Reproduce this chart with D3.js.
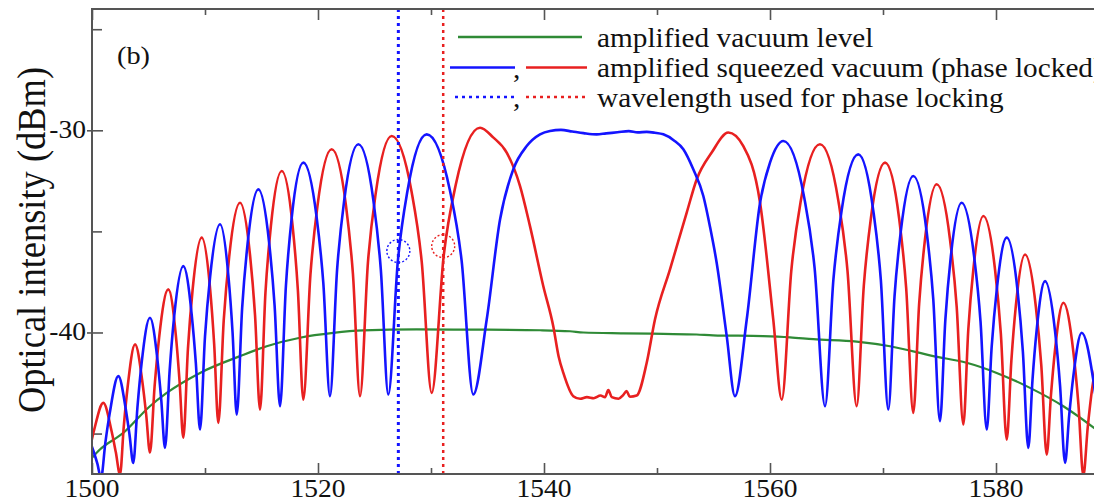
<!DOCTYPE html>
<html>
<head>
<meta charset="utf-8">
<script src="https://cdn.jsdelivr.net/npm/d3@7"></script>
<style>
  html, body { margin: 0; padding: 0; background: #fff; }
  svg { display: block; }
</style>
</head>
<body>
<svg id="chart" width="1094" height="500"></svg>
<script>
// Amplified squeezed vacuum spectra, [wavelength (nm), intensity (dBm)]
const bluePhaseLocked = [
  [1499.5, -44.9], [1500.15, -45.9], [1500.48, -46.5], [1500.8, -47.2],
  [1501.18, -45.46], [1501.57, -43.99], [1502.33, -42.16],
  [1502.99, -43.80], [1503.32, -45.06], [1503.65, -46.45],
  [1504.02, -43.71], [1504.39, -41.52], [1505.13, -39.27],
  [1505.80, -41.39], [1506.13, -43.34], [1506.46, -45.71],
  [1506.87, -41.90], [1507.27, -39.22], [1508.08, -36.72],
  [1508.82, -39.10], [1509.19, -41.52], [1509.56, -44.80],
  [1510.00, -40.20], [1510.45, -37.26], [1511.33, -34.65],
  [1512.07, -37.20], [1512.44, -40.00], [1512.81, -44.06],
  [1513.29, -38.77], [1513.77, -35.61], [1514.72, -32.92],
  [1515.68, -35.58], [1516.16, -38.67], [1516.64, -43.65],
  [1517.16, -37.70], [1517.67, -34.34], [1518.70, -31.60],
  [1519.88, -34.31], [1520.47, -37.55], [1521.06, -43.15],
  [1521.69, -36.89], [1522.32, -33.46], [1523.57, -30.69],
  [1524.90, -33.46], [1525.56, -36.89], [1526.22, -43.07],
  [1527.07, -36.45], [1527.92, -32.99], [1529.62, -30.20],
  [1531.68, -32.99], [1532.71, -36.45], [1533.74, -43.07],
  [1534.93, -39.36], [1536.11, -34.41], [1537.28, -31.93], [1538.47, -30.78], [1539.65, -30.20],
  [1540.53, -30.03], [1541.5, -29.98], [1542.5, -30.06], [1543.5, -30.14], [1544.66, -30.20],
  [1545.5, -30.15], [1546.5, -30.10], [1547.5, -30.04], [1548.3, -30.10], [1549.09, -30.08],
  [1549.8, -30.12], [1550.56, -30.20], [1551.5, -30.50], [1552.33, -30.94], [1553.21, -31.93],
  [1554.10, -33.25], [1554.70, -34.80], [1555.28, -36.55], [1556.17, -40.18], [1556.90, -43.15],
  [1557.94, -39.36], [1559.12, -33.58], [1560.00, -31.60], [1561.18, -30.53],
  [1563.03, -33.33], [1563.95, -36.83], [1564.87, -43.65],
  [1565.61, -37.39], [1566.34, -33.96], [1567.81, -31.19],
  [1569.14, -33.97], [1569.81, -37.41], [1570.47, -43.81],
  [1571.02, -38.21], [1571.58, -34.97], [1572.68, -32.26],
  [1573.86, -35.01], [1574.45, -38.36], [1575.04, -44.39],
  [1575.52, -39.35], [1576.00, -36.25], [1576.96, -33.58],
  [1578.07, -36.27], [1578.63, -39.45], [1579.18, -44.80],
  [1579.62, -40.69], [1580.07, -37.87], [1580.95, -35.31],
  [1581.91, -37.94], [1582.38, -40.96], [1582.86, -45.71],
  [1583.23, -42.34], [1583.60, -39.87], [1584.34, -37.46],
  [1585.23, -39.96], [1585.67, -42.64], [1586.11, -46.45],
  [1586.48, -44.08], [1586.85, -42.13], [1587.58, -40.01],
  [1588.59, -42.28], [1589.1, -44.51], [1589.6, -47.3]
];

const redPhaseLocked = [
  [1499.3, -46.8], [1499.79, -45.77], [1500.19, -44.82], [1501.00, -43.48],
  [1501.74, -44.90], [1502.11, -45.93], [1502.48, -47.03],
  [1502.81, -44.66], [1503.15, -42.71], [1503.81, -40.59],
  [1504.47, -42.49], [1504.80, -44.09], [1505.13, -45.94],
  [1505.54, -42.67], [1505.94, -40.25], [1506.75, -37.87],
  [1507.42, -40.14], [1507.75, -42.42], [1508.08, -45.21],
  [1508.49, -40.81], [1508.90, -37.91], [1509.71, -35.31],
  [1510.45, -37.83], [1510.81, -40.56], [1511.18, -44.47],
  [1511.66, -39.38], [1512.14, -36.25], [1513.10, -33.58],
  [1513.99, -36.20], [1514.43, -39.16], [1514.87, -43.81],
  [1515.35, -38.03], [1515.83, -34.74], [1516.79, -32.01],
  [1517.75, -34.71], [1518.22, -37.91], [1518.70, -43.32],
  [1519.33, -37.14], [1519.96, -33.71], [1521.21, -30.94],
  [1522.47, -33.70], [1523.09, -37.09], [1523.72, -43.15],
  [1524.42, -36.53], [1525.12, -33.07], [1526.52, -30.28],
  [1528.29, -33.06], [1529.18, -36.51], [1530.06, -42.99],
  [1531.13, -36.17], [1532.20, -32.67], [1534.34, -29.87],
  [1535.50, -30.35], [1536.70, -31.10], [1537.88, -32.76], [1538.76, -34.74], [1539.94, -37.71],
  [1540.82, -39.69], [1541.30, -41.20], [1541.71, -42.00], [1542.59, -43.15],
  [1543.2, -43.28], [1543.8, -43.20], [1544.4, -43.25], [1545.0, -43.12], [1545.4, -43.20],
  [1545.69, -42.85], [1546.0, -43.20], [1546.6, -43.28], [1547.0, -43.10], [1547.31, -42.90],
  [1547.6, -43.18], [1548.2, -43.12],
  [1549.09, -41.50], [1549.82, -39.36], [1551.15, -36.88], [1552.63, -34.07], [1553.51, -32.43],
  [1554.84, -31.10], [1556.31, -30.11],
  [1557.64, -30.78], [1559.12, -33.58], [1560.29, -39.36], [1561.04, -43.32],
  [1561.89, -36.91], [1562.73, -33.47], [1564.42, -30.69],
  [1566.05, -33.49], [1566.86, -36.96], [1567.67, -43.65],
  [1568.30, -37.70], [1568.93, -34.34], [1570.18, -31.60],
  [1571.43, -34.37], [1572.05, -37.80], [1572.68, -43.98],
  [1573.20, -38.57], [1573.72, -35.37], [1574.75, -32.67],
  [1575.93, -35.40], [1576.52, -38.72], [1577.11, -44.55],
  [1577.55, -39.84], [1578.00, -36.86], [1578.88, -34.24],
  [1579.92, -36.92], [1580.43, -40.07], [1580.95, -45.30],
  [1581.36, -41.39], [1581.76, -38.66], [1582.57, -36.14],
  [1583.53, -38.74], [1584.01, -41.64], [1584.49, -46.04],
  [1584.86, -43.13], [1585.23, -40.83], [1585.96, -38.53],
  [1586.85, -40.98], [1587.29, -43.53], [1587.73, -47.08],
  [1588.12, -44.68], [1588.52, -42.73], [1589.30, -40.60]
];

const vacuumLevel = [
  [1500.0, -46.2], [1500.7, -45.79], [1502.77, -44.97], [1505.1, -43.66], [1506.61, -42.99],
  [1509.56, -42.0], [1513.10, -41.17], [1515.46, -40.68], [1518.4, -40.26], [1521.35, -40.02],
  [1524.0, -39.9], [1528.73, -39.85], [1534.0, -39.86], [1539.65, -39.89], [1542.30, -39.94],
  [1543.48, -40.00], [1547.0, -40.04], [1550.56, -40.07], [1553.5, -40.10], [1554.96, -40.14],
  [1559.38, -40.18], [1561.77, -40.24], [1563.83, -40.33], [1567.67, -40.45], [1570.62, -40.68],
  [1574.45, -41.17], [1577.40, -41.50], [1580.06, -42.0], [1583.01, -42.74], [1585.96, -43.65],
  [1588.67, -44.72], [1590.0, -45.3]
];

// Wavelengths used for phase locking (blue, red) and the marked operating points
const lockWavelengths = [1527.11, 1531.08];
const lockPoints = [[1527.11, -35.97], [1531.08, -35.73]];

const xMajorTicks = [1500, 1520, 1540, 1560, 1580, 1600];
const xMinorTicks = [1510, 1530, 1550, 1570, 1590];
const yMajorTicks = [-30, -40];
const yMinorTicks = [-25, -35, -45];

const legendLabels = [
  "amplified vacuum level",
  "amplified squeezed vacuum (phase locked)",
  "wavelength used for phase locking"
];

// ---- drawing ----
const BLUE = "#1414ff", RED = "#e82020", GREEN = "#2f8a36", AXIS = "#555";
const FONT = "'Liberation Serif', 'Times New Roman', serif";
const SQUASH = 0.9;

const svg = d3.select("#chart");
svg.append("rect").attr("width", 1094).attr("height", 500).attr("fill", "#fff");

const plot = { left: 92, top: 9, right: 1222, bottom: 474 };
const x = d3.scaleLinear().domain([1500, 1600]).range([plot.left, plot.right]);
const y = d3.scaleLinear().domain([-47, -24]).range([plot.bottom, plot.top]);

function label(g, str, tx, ty, size, anchor) {
  return g.append("text")
    .attr("transform", `translate(${tx},${ty}) scale(1,${SQUASH})`)
    .attr("text-anchor", anchor || "start")
    .attr("font-family", FONT)
    .attr("font-size", size)
    .attr("fill", "#111")
    .text(str);
}

svg.append("defs").append("clipPath").attr("id", "plotClip")
  .append("rect")
  .attr("x", plot.left).attr("y", plot.top)
  .attr("width", plot.right - plot.left).attr("height", plot.bottom - plot.top);

// axes (inward ticks)
function styleAxis(g) {
  g.select(".domain").remove();
  g.selectAll(".tick line").attr("stroke", AXIS).attr("stroke-width", 1.6);
  g.selectAll(".tick text").remove();
}
svg.append("g").attr("transform", `translate(0,${plot.bottom})`)
  .call(d3.axisBottom(x).tickValues(xMajorTicks).tickSize(-11).tickFormat("")).call(styleAxis);
svg.append("g").attr("transform", `translate(0,${plot.bottom})`)
  .call(d3.axisBottom(x).tickValues(xMinorTicks).tickSize(-6).tickFormat("")).call(styleAxis);
svg.append("g").attr("transform", `translate(0,${plot.top})`)
  .call(d3.axisTop(x).tickValues(xMajorTicks).tickSize(-11).tickFormat("")).call(styleAxis);
svg.append("g").attr("transform", `translate(0,${plot.top})`)
  .call(d3.axisTop(x).tickValues(xMinorTicks).tickSize(-6).tickFormat("")).call(styleAxis);
svg.append("g").attr("transform", `translate(${plot.left},0)`)
  .call(d3.axisLeft(y).tickValues(yMajorTicks).tickSize(-11).tickFormat("")).call(styleAxis);
svg.append("g").attr("transform", `translate(${plot.left},0)`)
  .call(d3.axisLeft(y).tickValues(yMajorTicks).tickSize(5).tickFormat("")).call(styleAxis);
svg.append("g").attr("transform", `translate(${plot.left},0)`)
  .call(d3.axisLeft(y).tickValues(yMinorTicks).tickSize(-10).tickFormat("")).call(styleAxis);

// tick labels
const tickLabels = svg.append("g");
xMajorTicks.forEach(v => label(tickLabels, String(v), x(v), 497, 27.5, "middle"));
yMajorTicks.forEach(v => label(tickLabels, String(v), 86, y(v) + 8, 27.5, "end"));

// axis titles
svg.append("text")
  .attr("transform", `translate(45,${240}) rotate(-90) scale(${SQUASH},1)`)
  .attr("text-anchor", "middle")
  .attr("font-family", FONT).attr("font-size", 40.5).attr("fill", "#111")
  .text("Optical intensity (dBm)");
label(svg, "Wavelength (nm)", 497, 522, 36, "start");

// spectra
const line = d3.line().x(d => x(d[0])).y(d => y(d[1])).curve(d3.curveMonotoneX);
const series = svg.append("g").attr("clip-path", "url(#plotClip)");
series.append("path").datum(vacuumLevel).attr("d", line)
  .attr("fill", "none").attr("stroke", GREEN).attr("stroke-width", 2.2);
series.append("path").datum(redPhaseLocked).attr("d", line)
  .attr("fill", "none").attr("stroke", RED).attr("stroke-width", 2.6)
  .attr("stroke-linejoin", "round");
series.append("path").datum(bluePhaseLocked).attr("d", line)
  .attr("fill", "none").attr("stroke", BLUE).attr("stroke-width", 2.6)
  .attr("stroke-linejoin", "round");

// locking wavelengths and operating points
const lockColors = [BLUE, RED];
lockWavelengths.forEach((w, i) => {
  series.append("line")
    .attr("x1", x(w)).attr("x2", x(w)).attr("y1", plot.top).attr("y2", plot.bottom)
    .attr("stroke", lockColors[i]).attr("stroke-width", i === 0 ? 3 : 2.5)
    .attr("stroke-dasharray", "3,4");
});
lockPoints.forEach((p, i) => {
  series.append("circle")
    .attr("cx", x(p[0])).attr("cy", y(p[1])).attr("r", 11.5)
    .attr("fill", "none").attr("stroke", lockColors[i])
    .attr("stroke-width", 1.4).attr("stroke-dasharray", "2,2");
});

// frame
svg.append("rect")
  .attr("x", plot.left).attr("y", plot.top)
  .attr("width", plot.right - plot.left).attr("height", plot.bottom - plot.top)
  .attr("fill", "none").attr("stroke", AXIS).attr("stroke-width", 2);

// panel tag
label(svg, "(b)", 117, 64, 28.3, "start");

// legend
const legend = svg.append("g");
const rowBase = [46.5, 77, 106.5];
const textX = 597;
legend.append("line").attr("x1", 458).attr("x2", 582)
  .attr("y1", rowBase[0] - 9.5).attr("y2", rowBase[0] - 9.5)
  .attr("stroke", GREEN).attr("stroke-width", 2.5);
[1, 2].forEach(r => {
  const ly = rowBase[r] - 9.5;
  const dash = r === 2 ? "3,4" : null;
  legend.append("line").attr("x1", r === 2 ? 455 : 450).attr("x2", 515)
    .attr("y1", ly).attr("y2", ly).attr("stroke", BLUE).attr("stroke-width", 2.5)
    .attr("stroke-dasharray", dash);
  legend.append("line").attr("x1", 526).attr("x2", 587)
    .attr("y1", ly).attr("y2", ly).attr("stroke", RED).attr("stroke-width", 2.5)
    .attr("stroke-dasharray", dash);
  label(legend, ",", 513, rowBase[r] + 0.5, 29.3, "start");
});
legendLabels.forEach((t, i) => label(legend, t, textX, rowBase[i], 29.3, "start"));
</script>
</body>
</html>
